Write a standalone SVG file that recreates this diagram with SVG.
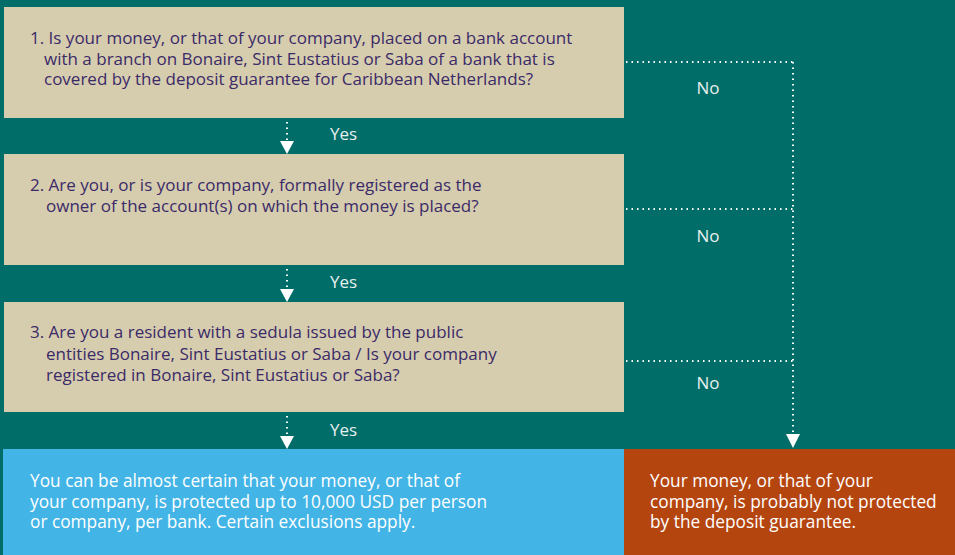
<svg xmlns="http://www.w3.org/2000/svg" width="955" height="555" viewBox="0 0 955 555">
  <defs>
    <style>
      .q { fill: #D6CDAF; }
      .qt { font-family: "Open Sans", Lato, sans-serif; font-size: 17px; fill: #3B2A68; }
      .lbl { font-family: "Open Sans", Lato, sans-serif; font-size: 17px; fill: #E8F0EE; }
      .rt { font-family: "Open Sans", Lato, sans-serif; font-size: 17.3px; fill: #FFFFFF; }
      .dot { fill: none; stroke: #FFFFFF; stroke-width: 2; stroke-dasharray: 1.5 4; }
      .head { fill: #FFFFFF; }
    </style>
  </defs>
  <rect width="955" height="555" fill="#006D69"/>

  <g id="q1">
    <rect class="q" x="4" y="7" width="620" height="111"/>
    <text class="qt"><tspan x="30" y="44">1. Is your money, or that of your company, placed on a bank account</tspan><tspan x="44" y="65">with a branch on Bonaire, Sint Eustatius or Saba of a bank that is</tspan><tspan x="44" y="85">covered by the deposit guarantee for Caribbean Netherlands?</tspan></text>
  </g>

  <g id="q2">
    <rect class="q" x="4" y="154" width="620" height="111"/>
    <text class="qt"><tspan x="30" y="191">2. Are you, or is your company, formally registered as the</tspan><tspan x="46" y="212">owner of the account(s) on which the money is placed?</tspan></text>
  </g>

  <g id="q3">
    <rect class="q" x="4" y="302" width="620" height="110"/>
    <text class="qt"><tspan x="30" y="338">3. Are you a resident with a sedula issued by the public</tspan><tspan x="46" y="360">entities Bonaire, Sint Eustatius or Saba / Is your company</tspan><tspan x="46" y="381">registered in Bonaire, Sint Eustatius or Saba?</tspan></text>
  </g>

  <g id="protected">
    <rect x="3" y="449" width="621" height="106" fill="#42B4E6"/>
    <text class="rt"><tspan x="30" y="487">You can be almost certain that your money, or that of</tspan><tspan x="30" y="508">your company, is protected up to 10,000 USD per person</tspan><tspan x="30" y="528">or company, per bank. Certain exclusions apply.</tspan></text>
  </g>

  <g id="not-protected">
    <rect x="624" y="449" width="331" height="106" fill="#B5450F"/>
    <text class="rt"><tspan x="650" y="487">Your money, or that of your</tspan><tspan x="650" y="508">company, is probably not protected</tspan><tspan x="650" y="528">by the deposit guarantee.</tspan></text>
  </g>

  <g id="connectors">
    <!-- Yes: straight down between questions -->
    <path class="dot" d="M287 122 V141"/>
    <polygon class="head" points="280,141 294,141 287,154"/>
    <text class="lbl" x="330" y="140">Yes</text>

    <path class="dot" d="M287 269 V289"/>
    <polygon class="head" points="280,289 294,289 287,302"/>
    <text class="lbl" x="330" y="288">Yes</text>

    <path class="dot" d="M287 416 V436"/>
    <polygon class="head" points="280,436 294,436 287,449"/>
    <text class="lbl" x="330" y="436">Yes</text>

    <!-- No: out to the right, down to the outcome -->
    <path class="dot" d="M626 62 H793"/>
    <path class="dot" d="M626 209 H793"/>
    <path class="dot" d="M626 361 H793"/>
    <path class="dot" d="M793 62 V434"/>
    <polygon class="head" points="786,434 800,434 793,448"/>
    <text class="lbl" x="708" y="94" text-anchor="middle">No</text>
    <text class="lbl" x="708" y="242" text-anchor="middle">No</text>
    <text class="lbl" x="708" y="389" text-anchor="middle">No</text>
  </g>
</svg>
